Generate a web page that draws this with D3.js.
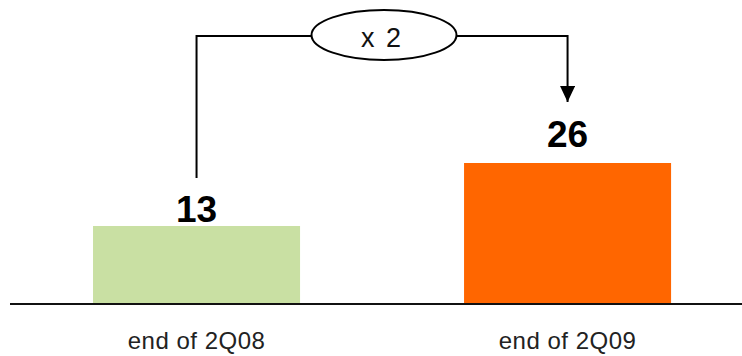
<!DOCTYPE html>
<html>
<head>
<meta charset="utf-8">
<script src="https://cdn.jsdelivr.net/npm/d3@7"></script>
<style>
  html, body { margin: 0; padding: 0; background: #fff; }
  svg { display: block; }
</style>
</head>
<body>
<svg id="chart" width="742" height="356"></svg>
<script>
// Data
const categories = ["end of 2Q08", "end of 2Q09"];
const values = [13, 26];
const barColors = ["#c9e0a3", "#ff6600"];
const growthLabel = "x 2";

const W = 742, H = 356;
const baseY = 304;

const svg = d3.select("#chart");

const x = d3.scaleBand()
  .domain(categories)
  .range([11.4, 752.7])
  .paddingInner(0.442)
  .paddingOuter(0.22);

const y = d3.scaleLinear()
  .domain([-3.1, 26])
  .range([baseY, 163]);

// Bars
svg.selectAll("rect.bar")
  .data(values)
  .join("rect")
  .attr("class", "bar")
  .attr("x", (d, i) => x(categories[i]))
  .attr("width", x.bandwidth())
  .attr("y", d => y(d))
  .attr("height", d => baseY - y(d))
  .attr("fill", (d, i) => barColors[i]);

// Baseline
svg.append("line")
  .attr("x1", 10).attr("x2", W)
  .attr("y1", baseY).attr("y2", baseY)
  .attr("stroke", "#111").attr("stroke-width", 2);

// Category axis labels
const xAxis = d3.axisBottom(x).tickSize(0).tickPadding(0);
const gx = svg.append("g")
  .attr("transform", `translate(0,${baseY})`)
  .call(xAxis);
gx.select(".domain").remove();
gx.selectAll("text")
  .attr("y", 45)
  .attr("dy", null)
  .attr("fill", "#222")
  .style("font-family", "'Liberation Sans', Arial, sans-serif")
  .style("font-size", "24px")
  .style("font-weight", "300")
  .style("letter-spacing", "0.5px");

// Value labels
const labelGap = [4, 16];
svg.selectAll("text.value")
  .data(values)
  .join("text")
  .attr("class", "value")
  .attr("x", (d, i) => x(categories[i]) + x.bandwidth() / 2)
  .attr("y", (d, i) => y(d) - labelGap[i])
  .attr("text-anchor", "middle")
  .attr("fill", "#000")
  .style("font-family", "'Liberation Sans', Arial, sans-serif")
  .style("font-size", "37px")
  .style("font-weight", "bold")
  .text(d => d);

// Growth connector: from the first bar up, across, and down to the second bar
const cx0 = x(categories[0]) + x.bandwidth() / 2;
const cx1 = x(categories[1]) + x.bandwidth() / 2;
const topY = 36;
const ell = { cx: 384, rx: 72.5, ry: 25 };

svg.append("defs").append("marker")
  .attr("id", "arrow")
  .attr("viewBox", "0 0 16 15")
  .attr("refX", 16).attr("refY", 7.5)
  .attr("markerWidth", 16).attr("markerHeight", 15)
  .attr("markerUnits", "userSpaceOnUse")
  .attr("orient", "auto")
  .append("path")
  .attr("d", "M0,0 L16,7.5 L0,15 Z")
  .attr("fill", "#000");

svg.append("path")
  .attr("d", `M${cx0},178 V${topY} H${ell.cx - ell.rx}`)
  .attr("fill", "none").attr("stroke", "#000").attr("stroke-width", 2);

svg.append("path")
  .attr("d", `M${ell.cx + ell.rx},${topY} H${cx1} V102`)
  .attr("fill", "none").attr("stroke", "#000").attr("stroke-width", 2)
  .attr("marker-end", "url(#arrow)");

svg.append("ellipse")
  .attr("cx", ell.cx).attr("cy", topY - 1)
  .attr("rx", ell.rx).attr("ry", ell.ry)
  .attr("fill", "#fff").attr("stroke", "#000").attr("stroke-width", 2);

svg.append("text")
  .attr("x", ell.cx - 2).attr("y", 47)
  .attr("text-anchor", "middle")
  .attr("fill", "#111")
  .style("font-family", "'Liberation Sans', Arial, sans-serif")
  .style("font-size", "27px")
  .style("letter-spacing", "2px")
  .text(growthLabel);
</script>
</body>
</html>
